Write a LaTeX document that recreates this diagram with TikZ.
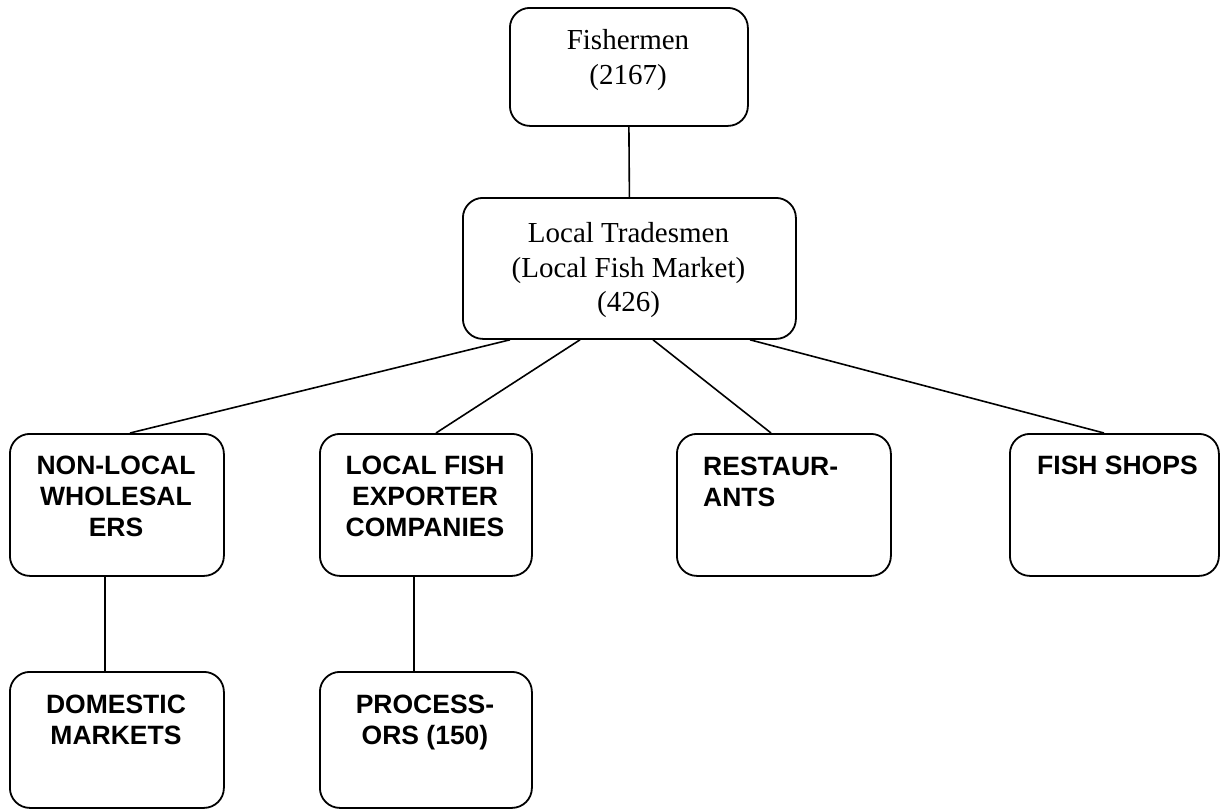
\documentclass[tikz,border=0pt]{standalone}
\usepackage{fontspec}
\setmainfont{Liberation Serif}
\newfontfamily\arialf{Liberation Sans}
\usetikzlibrary{calc}
\begin{document}
\begin{tikzpicture}[x=1pt,y=-1pt,
  box/.style={draw, line width=1.8pt, rounded corners=20pt, inner sep=0pt, anchor=north west},
  serif/.style={font=\fontsize{29}{34.5}\selectfont, align=center, inner sep=0pt, anchor=north},
  sans/.style={font=\arialf\bfseries\fontsize{26.5}{31}\selectfont, align=center, inner sep=0pt, anchor=north},
  sansl/.style={font=\arialf\bfseries\fontsize{26.5}{31}\selectfont, align=left, inner sep=0pt, anchor=north west},
  conn/.style={line width=1.6pt}]
\useasboundingbox (0,0) rectangle (1220,809);
% boxes
\node[box, minimum width=238pt, minimum height=118pt] (fish) at (509,7) {};
\node[box, minimum width=333pt, minimum height=141pt] (lt) at (462,197) {};
\node[box, minimum width=214pt, minimum height=142pt] (nlw) at (9,433) {};
\node[box, minimum width=212pt, minimum height=142pt] (exp) at (319,433) {};
\node[box, minimum width=214pt, minimum height=142pt] (rest) at (676,433) {};
\node[box, minimum width=209pt, minimum height=142pt] (shop) at (1009,433) {};
\node[box, minimum width=214pt, minimum height=136pt] (dom) at (9,671) {};
\node[box, minimum width=212pt, minimum height=136pt] (proc) at (319,671) {};
% texts
\node[serif] (fisht) at (628,29.5) {Fishermen\\(2167)};
\node[serif] (ltt) at (628.5,222.5) {Local Tradesmen\\(Local Fish Market)\\(426)};
\node[sans] (nlwt) at (116,455.5) {NON-LOCAL\\WHOLESAL\\ERS};
\node[sans] (expt) at (425,455.5) {LOCAL FISH\\EXPORTER\\COMPANIES};
\node[sansl] (restt) at (703,456.5) {RESTAUR-\\ANTS};
\node[sansl] (shopt) at (1037,456) {FISH SHOPS};
\node[sans] (domt) at (116,695) {DOMESTIC\\MARKETS};
\node[sans] (proct) at (425,695) {PROCESS-\\ORS (150)};
% connectors
\draw[conn] (fish.south) -- (lt.north);
\draw[conn] ($(lt.south west)+(48,0)$) -- ($(nlw.north west)+(121,0)$);
\draw[conn] ($(lt.south west)+(118,0)$) -- ($(exp.north west)+(117,0)$);
\draw[conn] ($(lt.south west)+(191,0)$) -- ($(rest.north west)+(95,0)$);
\draw[conn] ($(lt.south west)+(288,0)$) -- ($(shop.north west)+(95,0)$);
\draw[conn] ($(nlw.south west)+(96,0)$) -- ($(dom.north west)+(96,0)$);
\draw[conn] ($(exp.south west)+(95,0)$) -- ($(proc.north west)+(95,0)$);
\end{tikzpicture}
\end{document}
